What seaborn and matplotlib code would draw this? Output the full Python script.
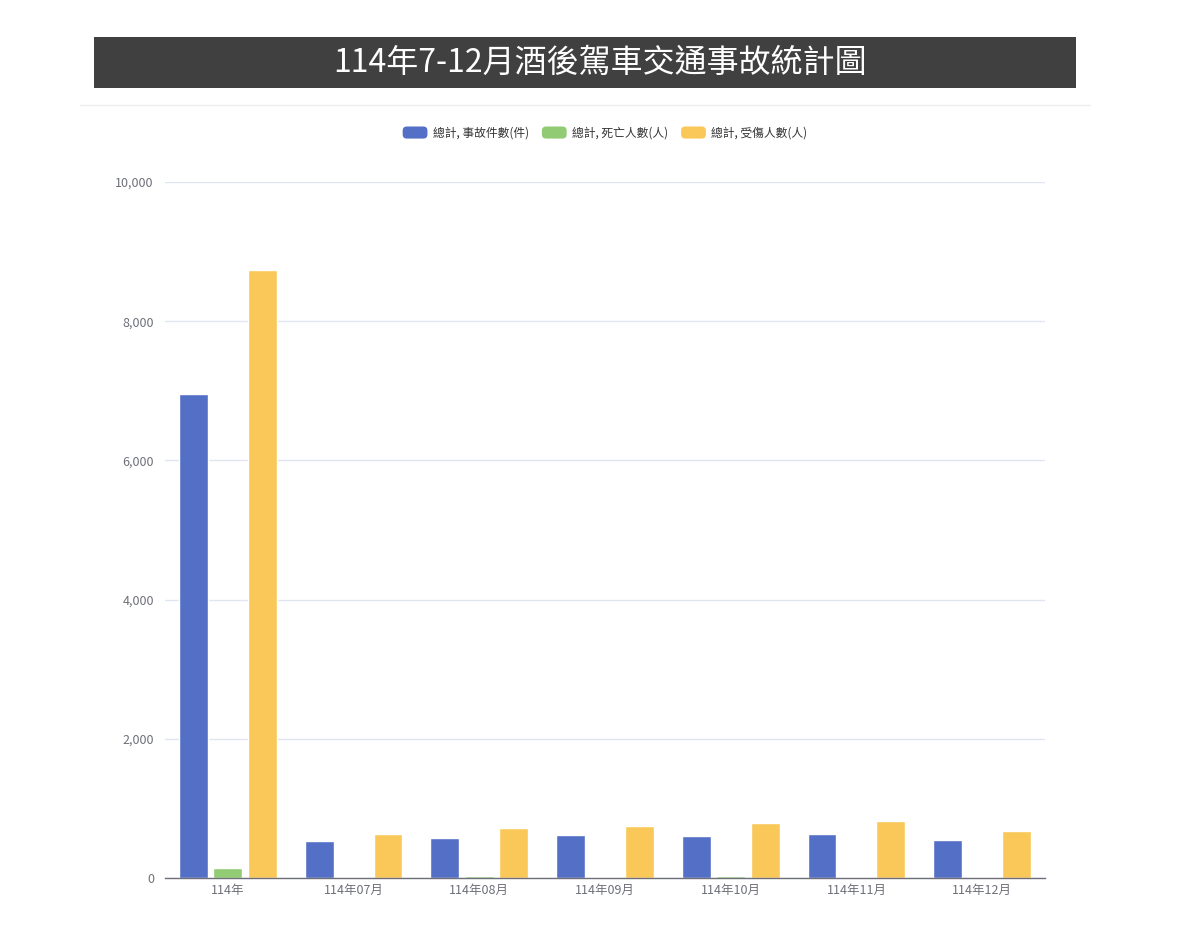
import matplotlib
matplotlib.use("Agg")
import matplotlib.pyplot as plt
import seaborn as sns
import pandas as pd
from matplotlib.patches import Rectangle, FancyBboxPatch, Patch
from matplotlib.legend_handler import HandlerPatch
from matplotlib.ticker import FuncFormatter, FixedLocator

categories = ["114年", "114年07月", "114年08月", "114年09月", "114年10月", "114年11月", "114年12月"]
series_names = ["總計, 事故件數(件)", "總計, 死亡人數(人)", "總計, 受傷人數(人)"]
accidents = [6955, 532, 575, 613, 608, 632, 542]
deaths = [144, 20, 22, 20, 26, 18, 16]
injuries = [8737, 632, 723, 743, 790, 815, 680]
colors = ["#5470c6", "#91cc75", "#fac858"]
title = "114年7-12月酒後駕車交通事故統計圖"

rows = []
for name, vals in zip(series_names, [accidents, deaths, injuries]):
    for c, v in zip(categories, vals):
        rows.append({"month": c, "series": name, "value": v})
df = pd.DataFrame(rows)

sns.set_theme(style="white")
plt.rcParams["font.family"] = ["Noto Sans CJK TC", "DejaVu Sans"]

fig = plt.figure(figsize=(12, 9.33), dpi=100)
ax = fig.add_axes([165/1200, 1-878/933, (1045-165)/1200, (878-182)/933])

sns.barplot(data=df, x="month", y="value", hue="series", order=categories,
            hue_order=series_names, palette=colors, width=0.82, gap=0.16,
            ax=ax, legend=False, saturation=1, errorbar=None)

ax.set_xlim(-0.5, len(categories) - 0.5)
ax.set_ylim(0, 10000)
ax.set_yticks([0, 2000, 4000, 6000, 8000, 10000])
ax.yaxis.set_major_formatter(FuncFormatter(lambda v, p: f"{int(v):,}"))
ax.grid(axis="y", color="#e0e6f1", linewidth=1)
ax.set_axisbelow(True)
for s in ["top", "right", "left"]:
    ax.spines[s].set_visible(False)
ax.spines["bottom"].set_color("#6e7079")
ax.spines["bottom"].set_linewidth(1)
ax.set_xlabel("")
ax.set_ylabel("")
ax.tick_params(axis="y", length=0, labelsize=9, labelcolor="#6e7079", pad=8)
ax.tick_params(axis="x", which="major", length=0, labelsize=9, labelcolor="#6e7079", pad=4)
ax.xaxis.set_minor_locator(FixedLocator([i - 0.5 for i in range(len(categories) + 1)]))
ax.tick_params(axis="x", which="minor", length=5, color="#6e7079", width=1, direction="out")

# Title box
fig.patches.append(Rectangle((94/1200, 1-88/933), (1076-94)/1200, (88-37)/933,
                             transform=fig.transFigure, facecolor="#404040",
                             edgecolor="none", zorder=0))
fig.text(600/1200, 1-62.5/933, title, color="white", fontsize=23,
         ha="center", va="center")
fig.add_artist(plt.Line2D([80/1200, 1090/1200], [1-105/933, 1-105/933],
                          transform=fig.transFigure, color="#eeeeee", linewidth=1))


class RoundHandler(HandlerPatch):
    def create_artists(self, legend, orig_handle, xdescent, ydescent, width, height, fontsize, trans):
        p = FancyBboxPatch((-xdescent, -ydescent), width, height,
                           boxstyle="round,pad=0,rounding_size=3",
                           facecolor=orig_handle.get_facecolor(), edgecolor="none",
                           transform=trans)
        return [p]


handles = [Patch(facecolor=c, label=n) for c, n in zip(colors, series_names)]
fig.legend(handles=handles, loc="center", bbox_to_anchor=(605/1200, 1-133/933),
           ncol=3, frameon=False, fontsize=8.5, labelcolor="#333333",
           handlelength=2.1, handleheight=1.2, handletextpad=0.45, columnspacing=1.1,
           handler_map={Patch: RoundHandler()})

fig.savefig("out.png", dpi=100, facecolor="white")
